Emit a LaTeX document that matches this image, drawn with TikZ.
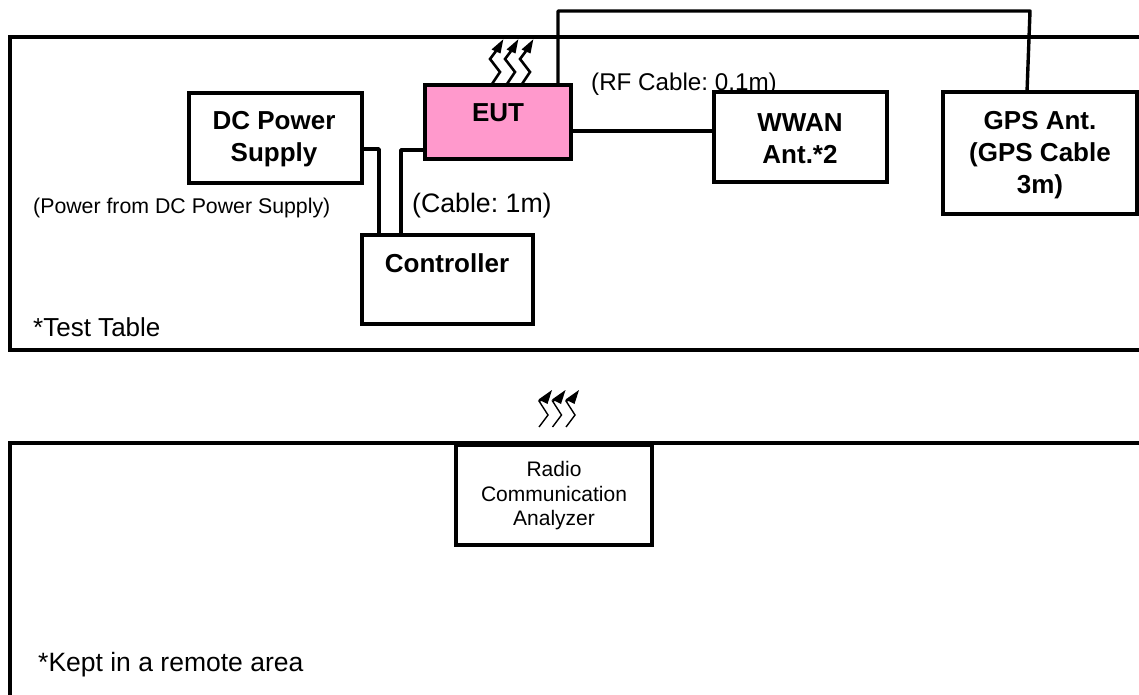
\documentclass[tikz,border=0pt]{standalone}
\usepackage{fontspec}
\setmainfont{Liberation Sans}
\frenchspacing
\tikzset{
 x=1pt,y=-1pt,
 boxed/.style={draw=black,line width=4pt,fill=white,inner sep=0pt,outer sep=0pt,anchor=north west,align=center},
 tablerule/.style={line width=3.8pt,line cap=rect},
 wire/.style={line width=3.4pt,line join=round},
 lab/.style={inner sep=0pt,anchor=base west},
 big/.style={font=\fontsize{26}{32}\selectfont\bfseries,inner sep=0pt,anchor=center,align=center},
 bolt/.style={line width=2.6pt,draw=black},
 boltthin/.style={line width=1.4pt,draw=black}
}
\begin{document}
\begin{tikzpicture}
\useasboundingbox (0,0) rectangle (1139,695);
\fill[white] (0,0) rectangle (1139,695);
% tables
\draw[tablerule] (1139,37) -- (10,37) -- (10,350) -- (1139,350);
\draw[tablerule] (1139,443) -- (10,443) -- (10,695);
% labels that lie under the boxes
\node[lab,font=\fontsize{24.2}{28}\selectfont] (l1) at (591,91) {(RF Cable: 0.1m)};
\node[lab,font=\fontsize{26.7}{30}\selectfont] (l2) at (412,212) {(Cable: 1m)};
\node[lab,font=\fontsize{21.3}{24}\selectfont] (l3) at (33,213) {(Power from DC Power Supply)};
\node[lab,font=\fontsize{26}{30}\selectfont] (l4) at (33,336) {*Test Table};
\node[lab,font=\fontsize{26.5}{30}\selectfont] (l5) at (38,671) {*Kept in a remote area};
% boxes
\node[boxed,minimum width=173pt,minimum height=90pt] (dc) at (188.5,93) {};
\node[boxed,minimum width=146pt,minimum height=74pt,fill={rgb,255:red,255;green,153;blue,204}] (eut) at (425,85) {};
\node[boxed,minimum width=173pt,minimum height=90pt] (wwan) at (714,92) {};
\node[boxed,minimum width=194pt,minimum height=122pt] (gps) at (943,92) {};
\node[boxed,minimum width=171pt,minimum height=89pt] (ctrl) at (362,235) {};
\node[boxed,minimum width=196pt,minimum height=100pt] (rca) at (456,445) {};
% texts
\node[big] (tdc) at (274,139) {DC Power\\Supply};
\node[big] (teut) at (498,113) {EUT};
\node[big] (twwan) at (800,139) {WWAN\\Ant.*2};
\node[big] (tgps) at (1040,155) {GPS Ant.\\(GPS Cable\\3m)};
\node[big] (tctrl) at (447,263) {Controller};
\node[font=\fontsize{21}{24.5}\selectfont,align=center,inner sep=0pt] (trca) at (554,496) {Radio\\Communication\\Analyzer};
% connectors
\coordinate (g1) at (558,85);
\coordinate (g2) at (558,11);
\coordinate (g3) at (1030,11);
\coordinate (g4) at (1027,92);
\draw[wire] (g1) -- (g2) -- (g3) -- (g4);
\coordinate (e1) at (571,131);
\coordinate (e2) at (714,131);
\draw[wire] (e1) -- (e2);
\coordinate (d1) at (361,149);
\coordinate (d2) at (379,149);
\coordinate (d3) at (379,235);
\draw[wire] (d1) -- (d2) -- (d3);
\coordinate (c1) at (425,150);
\coordinate (c2) at (401,150);
\coordinate (c3) at (401,235);
\draw[wire] (c1) -- (c2) -- (c3);
% emission arrows
\foreach \dx in {0,15,30}{
 \draw[bolt] (492+\dx,84) -- (500+\dx,72) -- (490+\dx,59) -- (496+\dx,51);
 \fill (503.3+\dx,39.3) -- (491.5+\dx,49.5) -- (500.5+\dx,53.5) -- cycle;
}
\foreach \dx in {0,13.5,27}{
 \draw[boltthin] (539+\dx,427) -- (548+\dx,415) -- (539+\dx,401) -- (543+\dx,400);
 \fill (552+\dx,390) -- (538.5+\dx,399.5) -- (547.5+\dx,404) -- cycle;
}
\end{tikzpicture}
\end{document}
